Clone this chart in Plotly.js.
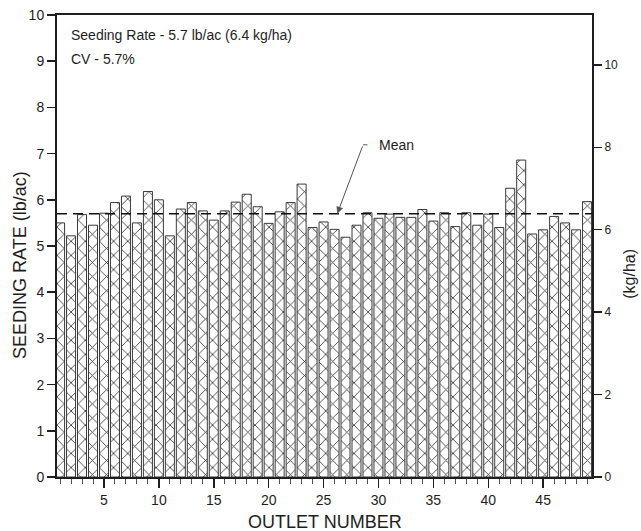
<!DOCTYPE html>
<html>
<head>
<meta charset="utf-8">
<script src="https://cdn.plot.ly/plotly-3.0.1.min.js"></script>
<style>
  html, body { margin: 0; padding: 0; background: #fff; }
  #chart { width: 641px; height: 531px; }
</style>
</head>
<body>
<div id="chart"></div>
<script>
// Outlet numbers
const outlets = [
  1, 2, 3, 4, 5, 6, 7, 8, 9, 10,
  11, 12, 13, 14, 15, 16, 17, 18, 19, 20,
  21, 22, 23, 24, 25, 26, 27, 28, 29, 30,
  31, 32, 33, 34, 35, 36, 37, 38, 39, 40,
  41, 42, 43, 44, 45, 46, 47, 48, 49
];
// Seeding rate per outlet (lb/ac)
const seedingRate = [
  5.50, 5.22, 5.68, 5.45, 5.71, 5.94, 6.08, 5.50, 6.18, 6.00,
  5.22, 5.80, 5.94, 5.76, 5.56, 5.76, 5.95, 6.12, 5.85, 5.49,
  5.74, 5.94, 6.34, 5.40, 5.52, 5.36, 5.19, 5.45, 5.72, 5.60,
  5.69, 5.62, 5.62, 5.79, 5.54, 5.72, 5.42, 5.72, 5.45, 5.69,
  5.40, 6.25, 6.86, 5.26, 5.35, 5.64, 5.50, 5.35, 5.96
];
const meanRate = 5.7;
const lbacToKgha = 1.121;
const leftTicks = [0, 1, 2, 3, 4, 5, 6, 7, 8, 9, 10];
const rightTicks = [0, 2, 4, 6, 8, 10];
const xTicks = [5, 10, 15, 20, 25, 30, 35, 40, 45];

const FONT = '"Liberation Sans", Arial, Helvetica, sans-serif';
const INK = '#1e1e1e';

const bars = {
  type: 'bar',
  x: outlets,
  y: seedingRate,
  marker: {
    color: '#ffffff',
    line: { color: '#3a3a3a', width: 1 },
    pattern: { shape: 'x', fgcolor: '#333333', bgcolor: '#ffffff', size: 10, solidity: 0.16 }
  },
  hoverinfo: 'x+y',
  showlegend: false
};

const kgAxisTrace = {
  type: 'scatter',
  mode: 'markers',
  x: outlets,
  y: seedingRate.map(v => v * lbacToKgha),
  yaxis: 'y2',
  marker: { opacity: 0 },
  hoverinfo: 'skip',
  showlegend: false
};

const layout = {
  width: 641,
  height: 531,
  margin: { l: 57, r: 49, t: 15, b: 54, pad: 0 },
  paper_bgcolor: '#ffffff',
  plot_bgcolor: '#ffffff',
  bargap: 0.18,
  font: { family: FONT, color: INK, size: 14 },
  xaxis: {
    range: [0.72, 49.45],
    tickmode: 'array',
    tickvals: xTicks,
    ticks: 'outside',
    ticklen: 9,
    tickwidth: 1.5,
    tickcolor: INK,
    tickfont: { family: FONT, size: 14, color: INK },
    minor: { tickmode: 'linear', tick0: 0, dtick: 1, ticks: 'outside', ticklen: 5, tickwidth: 1, tickcolor: '#555' },
    showline: true,
    linecolor: INK,
    linewidth: 2,
    mirror: true,
    showgrid: false,
    zeroline: false,
    fixedrange: true
  },
  yaxis: {
    range: [0, 10],
    tickmode: 'array',
    tickvals: leftTicks,
    ticks: 'outside',
    ticklen: 8,
    tickwidth: 1.5,
    tickcolor: INK,
    tickfont: { family: FONT, size: 14, color: INK },
    showline: true,
    linecolor: INK,
    linewidth: 2,
    showgrid: false,
    zeroline: false,
    fixedrange: true
  },
  yaxis2: {
    overlaying: 'y',
    side: 'right',
    range: [0, 10 * lbacToKgha],
    tickmode: 'array',
    tickvals: rightTicks,
    ticks: 'outside',
    ticklen: 8,
    tickwidth: 1.5,
    tickcolor: INK,
    tickfont: { family: FONT, size: 12, color: INK },
    showline: true,
    linecolor: INK,
    linewidth: 2,
    showgrid: false,
    zeroline: false,
    fixedrange: true
  },
  shapes: [
    {
      type: 'line', xref: 'paper', x0: 0, x1: 1, yref: 'y', y0: meanRate, y1: meanRate,
      line: { color: '#111', width: 1.5, dash: '10px,6px' }
    },
    {
      type: 'line', xref: 'x', yref: 'y', x0: 28.6, y0: 7.19, x1: 29.0, y1: 7.19,
      line: { color: '#555', width: 1 }
    }
  ],
  annotations: [
    {
      xref: 'x', yref: 'y', x: 26.25, y: meanRate, ax: 28.6, ay: 7.19,
      axref: 'x', ayref: 'y', text: '', showarrow: true,
      arrowhead: 2, arrowsize: 1.4, arrowwidth: 1, arrowcolor: '#555'
    },
    {
      xref: 'x', yref: 'y', x: 31.6, y: 7.19, text: 'Mean', showarrow: false,
      font: { family: FONT, size: 14, color: INK }
    },
    {
      xref: 'paper', yref: 'y', x: 0.022, y: 9.57, xanchor: 'left', yanchor: 'middle',
      text: 'Seeding Rate - 5.7 lb/ac (6.4 kg/ha)', showarrow: false,
      font: { family: FONT, size: 14, color: INK }
    },
    {
      xref: 'paper', yref: 'y', x: 0.022, y: 9.05, xanchor: 'left', yanchor: 'middle',
      text: 'CV - 5.7%', showarrow: false,
      font: { family: FONT, size: 14, color: INK }
    },
    {
      xref: 'paper', yref: 'paper', x: 0.5, y: -0.097, xanchor: 'center', yanchor: 'middle',
      text: 'OUTLET NUMBER', showarrow: false,
      font: { family: FONT, size: 18, color: INK }
    },
    {
      xref: 'paper', yref: 'paper', x: -0.068, y: 0.458, xanchor: 'center', yanchor: 'middle',
      text: 'SEEDING RATE (lb/ac)', textangle: -90, showarrow: false,
      font: { family: FONT, size: 18, color: INK }
    },
    {
      xref: 'paper', yref: 'paper', x: 1.071, y: 0.44, xanchor: 'center', yanchor: 'middle',
      text: '(kg/ha)', textangle: -90, showarrow: false,
      font: { family: FONT, size: 16, color: INK }
    }
  ]
};

Plotly.newPlot('chart', [bars, kgAxisTrace], layout, { staticPlot: true, displayModeBar: false });
</script>
</body>
</html>
